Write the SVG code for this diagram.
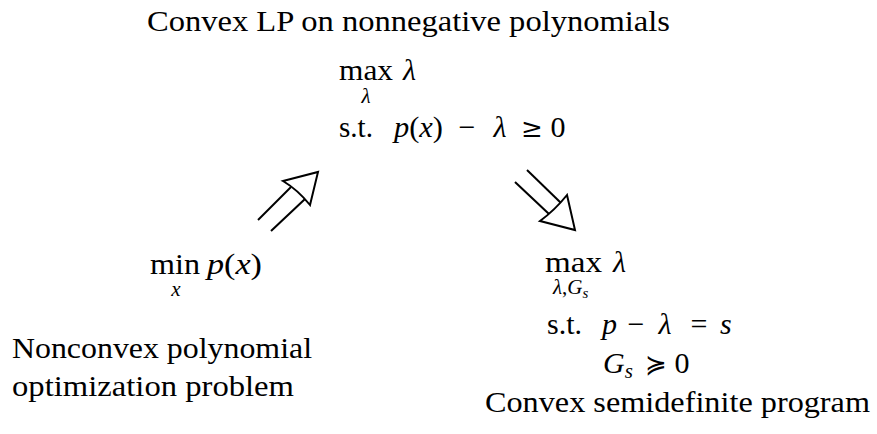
<svg xmlns="http://www.w3.org/2000/svg" width="877" height="434" viewBox="0 0 877 434">
<style>
text{font-family:"Liberation Serif","DejaVu Serif",serif;font-size:30px;fill:#000}
.i{font-style:italic}
.s{font-size:21px}
.ss{font-size:15px}
.sym{font-family:"DejaVu Serif","Liberation Serif",serif;font-size:26px}
.ln{stroke:#000;stroke-width:2;fill:none;stroke-linecap:butt}
.hd{stroke:#000;stroke-width:2;fill:#fff;stroke-linejoin:miter}
</style>
<rect width="877" height="434" fill="#fff"/>
<g id="lp">
<text x="147" y="31" textLength="523" lengthAdjust="spacingAndGlyphs">Convex LP on nonnegative polynomials</text>
<text x="339" y="80" textLength="54" lengthAdjust="spacingAndGlyphs">max</text>
<text class="i" x="403" y="80">λ</text>
<text class="i s" x="366" y="103" text-anchor="middle">λ</text>
<text x="339" y="137" textLength="34" lengthAdjust="spacingAndGlyphs">s.t.</text>
<text x="394" y="137" textLength="49" lengthAdjust="spacingAndGlyphs"><tspan class="i">p</tspan>(<tspan class="i">x</tspan>)</text>
<text x="467" y="137" text-anchor="middle">−</text>
<text class="i" x="500" y="137" text-anchor="middle">λ</text>
<text class="sym" x="532" y="137" text-anchor="middle">≥</text>
<text x="558" y="137" text-anchor="middle">0</text>
</g>
<g id="pop">
<text x="150" y="274" textLength="50" lengthAdjust="spacingAndGlyphs">min</text>
<text x="207" y="274" textLength="55" lengthAdjust="spacingAndGlyphs"><tspan class="i">p</tspan>(<tspan class="i">x</tspan>)</text>
<text class="i s" x="176" y="296" text-anchor="middle">x</text>
<text x="12" y="358" textLength="300" lengthAdjust="spacingAndGlyphs">Nonconvex polynomial</text>
<text x="12" y="396" textLength="282" lengthAdjust="spacingAndGlyphs">optimization problem</text>
</g>
<g id="sdp">
<text x="545" y="272" textLength="57" lengthAdjust="spacingAndGlyphs">max</text>
<text class="i" x="613" y="272">λ</text>
<text class="s" x="553" y="294"><tspan class="i">λ</tspan>,<tspan class="i">G</tspan><tspan class="i ss" dy="4">s</tspan></text>
<text x="547" y="334" textLength="35" lengthAdjust="spacingAndGlyphs">s.t.</text>
<text class="i" x="602" y="334">p</text>
<text x="636" y="334" text-anchor="middle">−</text>
<text class="i" x="665" y="334" text-anchor="middle">λ</text>
<text x="699" y="334" text-anchor="middle">=</text>
<text class="i" x="720" y="334">s</text>
<text x="603" y="373"><tspan class="i">G</tspan><tspan class="i s" dy="5">s</tspan></text>
<text class="sym" x="656" y="373" text-anchor="middle">≽</text>
<text x="682" y="373" text-anchor="middle">0</text>
<text x="485" y="412" textLength="385" lengthAdjust="spacingAndGlyphs">Convex semidefinite program</text>
</g>
<g id="connectors">
<line class="ln" x1="258" y1="220" x2="291" y2="187"/>
<line class="ln" x1="271" y1="231" x2="305" y2="199"/>
<path class="hd" d="M283,181 L318,172 L310,205 Q298,190 283,181 Z"/>
<line class="ln" x1="527" y1="170" x2="561" y2="203"/>
<line class="ln" x1="515" y1="182" x2="549" y2="214"/>
<path class="hd" d="M567,195 L575,230 L540,221 Q555,210 567,195 Z"/>
</g>
</svg>
